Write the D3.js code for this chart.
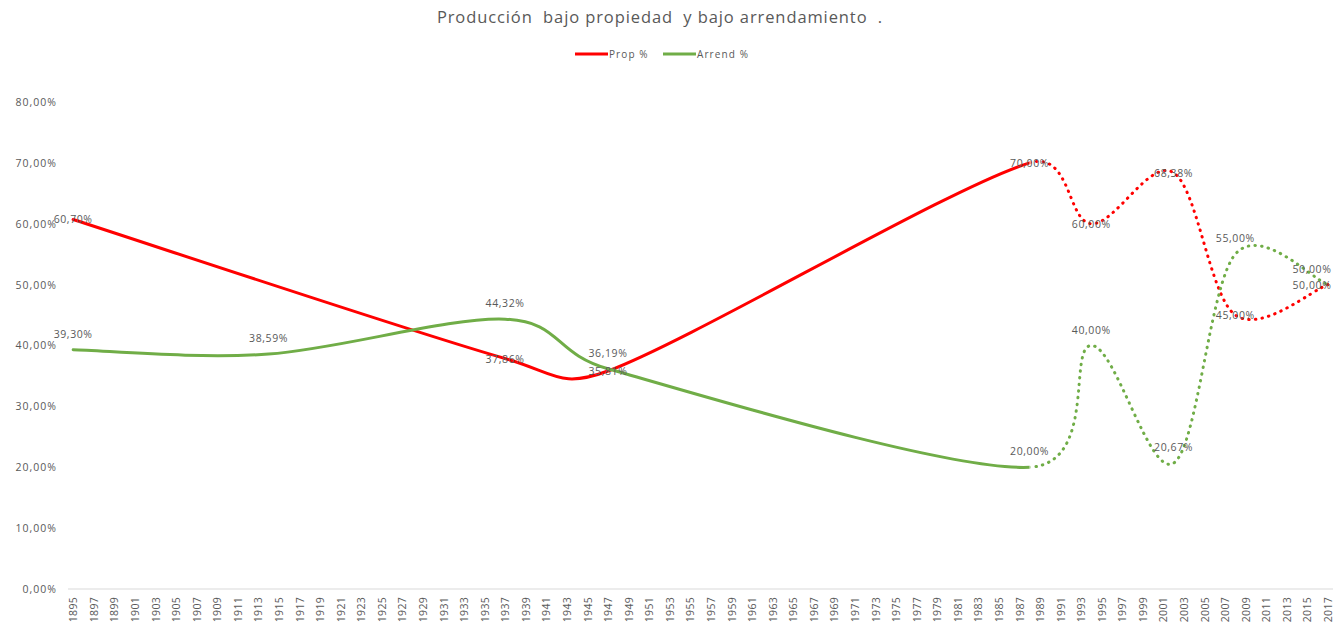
<!DOCTYPE html>
<html><head><meta charset="utf-8">
<script src="https://cdn.jsdelivr.net/npm/d3@7"></script>
<style>body{margin:0;background:#fff}svg{display:block}text{font-family:"Open Sans",sans-serif}</style>
</head><body><svg id="c" width="1338" height="629"></svg>
<script>
const years = d3.range(1895, 2018);
const tickYears = d3.range(1895, 2018, 2);
const yTicks = [0,0.1,0.2,0.3,0.4,0.5,0.6,0.7,0.8];
const propYears = [1895, 1937, 1947, 1988, 1994, 2002, 2008, 2017];
const propValues = [0.6070, 0.3786, 0.3581, 0.7000, 0.6000, 0.6838, 0.4500, 0.5000];
const arrendYears = [1895, 1914, 1937, 1947, 1988, 1994, 2002, 2008, 2017];
const arrendValues = [0.3930, 0.3859, 0.4432, 0.3619, 0.2000, 0.4000, 0.2067, 0.5500, 0.5000];
const solidUntil = 1988;
const seriesNames = ["Prop %", "Arrend %"];
const colors = ["#FF0000", "#70AD47"];

// Excel-like smoothing curve (Bezier, tension 1/6 limited to half segment length)
function ExcelCurve(context){ this._context = context; }
ExcelCurve.prototype = {
  areaStart(){}, areaEnd(){},
  lineStart(){ this._pts = []; },
  point(x,y){ this._pts.push([+x,+y]); },
  lineEnd(){
    const p = this._pts, c = this._context, n = p.length;
    if(!n) return;
    c.moveTo(p[0][0], p[0][1]);
    const dist=(a,b)=>Math.hypot(a[0]-b[0],a[1]-b[1]);
    for(let i=0;i<n-1;i++){
      const p0 = p[Math.max(0,i-1)], p1 = p[i], p2 = p[i+1], p3 = p[Math.min(n-1,i+2)];
      const d12 = dist(p1,p2), d02 = dist(p0,p2), d13 = dist(p1,p3);
      const f = d02>0 ? Math.min(1/6, d12/(2*d02)) : 0;
      const g = d13>0 ? Math.min(1/6, d12/(2*d13)) : 0;
      c.bezierCurveTo(p1[0]+(p2[0]-p0[0])*f, p1[1]+(p2[1]-p0[1])*f,
                      p2[0]-(p3[0]-p1[0])*g, p2[1]-(p3[1]-p1[1])*g, p2[0], p2[1]);
    }
  }
};
const curveExcel = ctx => new ExcelCurve(ctx);

const svg = d3.select("#c");
const x = d3.scalePoint().domain(years).range([68,1333]).padding(0.5);
const y = d3.scaleLinear().domain([0,0.8]).range([589,102]);
const fmt = v => d3.format(".2f")(v*100).replace(".", ",") + "%";

svg.append("text").attr("x",660).attr("y",23).attr("text-anchor","middle")
  .attr("font-size",16.5).attr("letter-spacing",0.9).attr("fill","#595959").style("white-space","pre")
  .text("Producción  bajo propiedad  y bajo arrendamiento  .");

// legend
const lg = svg.append("g");
[[575, 0],[663, 1]].forEach(([lx,i])=>{
  lg.append("line").attr("x1",lx).attr("x2",lx+33).attr("y1",54).attr("y2",54).attr("stroke",colors[i]).attr("stroke-width",3);
  lg.append("text").attr("x",lx+34).attr("y",57.5).attr("font-size",10).attr("letter-spacing",1.1).attr("fill","#595959").text(seriesNames[i]);
});

// y axis
const ya = svg.append("g").attr("transform","translate(59,0)")
  .call(d3.axisLeft(y).tickValues(yTicks).tickFormat(fmt).tickSize(0).tickPadding(2));
ya.select(".domain").remove();
ya.selectAll("text").attr("font-size",10.5).attr("letter-spacing",1).attr("fill","#595959").attr("font-family","'Open Sans',sans-serif");

// x axis
const xa = svg.append("g").attr("transform","translate(0,589)")
  .call(d3.axisBottom(x).tickValues(tickYears).tickSize(0));
xa.select(".domain").attr("stroke","#D9D9D9").attr("d","M68,0H1333");
xa.selectAll("text").attr("font-size",10.5).attr("letter-spacing",0.3).attr("fill","#595959")
  .attr("font-family","'Open Sans',sans-serif")
  .attr("transform","rotate(-90)").attr("text-anchor","end").attr("x",-8).attr("y",0).attr("dy","0.35em");

const defs = svg.append("defs");
const xs = x(solidUntil);
defs.append("clipPath").attr("id","cs").append("rect").attr("x",0).attr("y",0).attr("width",xs).attr("height",629);
defs.append("clipPath").attr("id","cd").append("rect").attr("x",xs+1).attr("y",0).attr("width",1338-xs).attr("height",629);

const line = d3.line().x(d=>x(d[0])).y(d=>y(d[1])).curve(curveExcel);
const series = [d3.zip(propYears, propValues), d3.zip(arrendYears, arrendValues)];
series.forEach((pts,i)=>{
  svg.append("path").datum(pts).attr("d",line).attr("fill","none").attr("stroke",colors[i])
    .attr("stroke-width",3).attr("stroke-linecap","round").attr("clip-path","url(#cs)");
  svg.append("path").datum(pts).attr("d",line).attr("fill","none").attr("stroke",colors[i])
    .attr("stroke-width",3).attr("stroke-linecap","round").attr("stroke-dasharray","0.5 6.2").attr("clip-path","url(#cd)");
});

// labels
series.forEach((pts,i)=>{
  svg.append("g").selectAll("text").data(pts).join("text")
    .attr("x",d=>Math.min(x(d[0]), 1312)).attr("y",d=>y(d[1]) + (i===0 ? 4 : -12))
    .attr("text-anchor","middle").attr("font-size",10.5).attr("letter-spacing",0.6).attr("fill","#595959")
    .text(d=>fmt(d[1]));
});
</script></body></html>
